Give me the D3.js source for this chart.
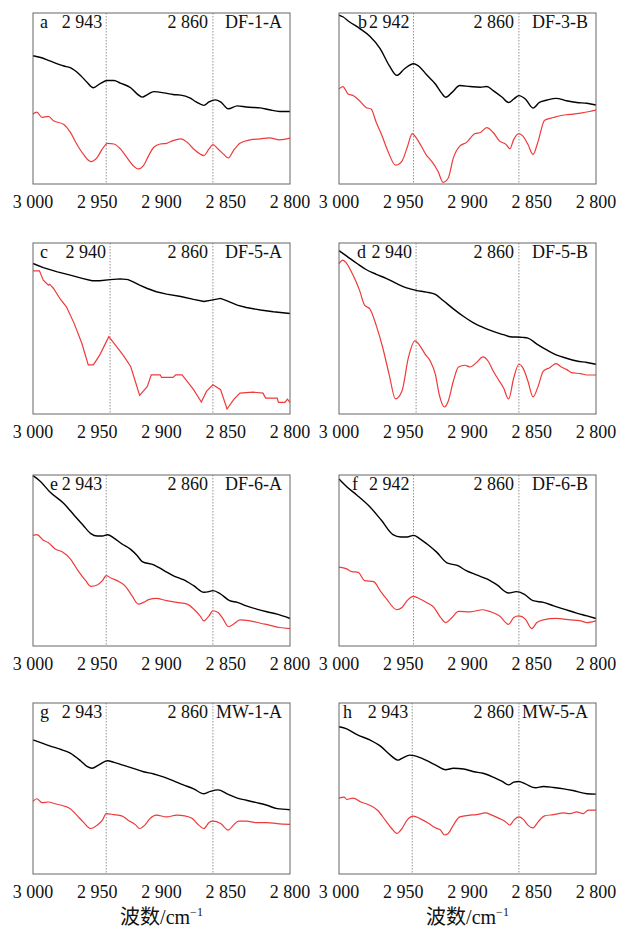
<!DOCTYPE html>
<html>
<head>
<meta charset="utf-8">
<script src="https://cdn.jsdelivr.net/npm/d3@7/dist/d3.min.js"></script>
<style>
  body { margin: 0; background: #fff; }
  text { font-family: "Liberation Serif", "Noto Sans CJK SC", serif; fill: #111; }
</style>
</head>
<body>
<svg id="chart" width="623" height="931"></svg>
<script>
// x axis ticks (wavenumber, cm-1)
const xTicks = [3000, 2950, 2900, 2850, 2800];

// panel labels
const panelLetters = ['a', 'b', 'c', 'd', 'e', 'f', 'g', 'h'];
const sampleNames = ['DF-1-A', 'DF-3-B', 'DF-5-A', 'DF-5-B', 'DF-6-A', 'DF-6-B', 'MW-1-A', 'MW-5-A'];
const peak1 = [2943, 2942, 2940, 2940, 2943, 2942, 2943, 2943];
const peak2 = [2860, 2860, 2860, 2860, 2860, 2860, 2860, 2860];

// spectra: [wavenumber, relative intensity 0-100]
const aBlack = [[3000,75],[2994,74],[2987,72],[2976,69],[2971,68],[2963,63.5],[2958,59.5],[2953,56.3],[2948,58.6],[2942,60.5],[2937,60.5],[2932,59],[2924,56.3],[2919,52.7],[2915,50.8],[2911,52.3],[2906,54],[2898,53.3],[2891,52.3],[2885,52],[2878,50.4],[2873,48],[2867,46],[2863,48],[2858,49.2],[2854,48],[2848,44],[2841,45.7],[2834,45],[2823,44.5],[2816,43.4],[2808,42.4],[2800,42.4]];
const aRed = [[3000,41],[2997,42],[2993,39],[2988,39.5],[2984,37],[2976,34.8],[2971,30.3],[2966,23.4],[2961,17.6],[2955,13.1],[2950,15.6],[2946,20.5],[2942,23.8],[2937,23.4],[2932,20.5],[2927,15.6],[2922,10.7],[2918,8.8],[2914,10.7],[2910,16.6],[2906,21.5],[2901,23.4],[2896,23.8],[2891,25.4],[2885,26.4],[2880,24.4],[2875,20.5],[2870,17.6],[2867,16.6],[2863,20.5],[2860,23],[2856,20.5],[2852,17.6],[2848,15.2],[2844,19.5],[2839,23.8],[2831,25.8],[2823,26.4],[2816,27],[2808,25.8],[2800,26.8]];

const bBlack = [[3000,98.8],[2997,97.8],[2992,94.9],[2984,91],[2976,86.4],[2968,79.2],[2961,69.4],[2955,63.5],[2949,67.4],[2942,70.3],[2937,68.3],[2932,64],[2925,58.5],[2920,53],[2917,50.7],[2912,53.6],[2906,57.6],[2898,57],[2890,56.6],[2885,57],[2880,54.6],[2873,50.7],[2868,47.7],[2864,49.7],[2860,51.7],[2855,49.7],[2849,44.4],[2844,47.7],[2838,49.1],[2831,50.1],[2823,48.7],[2815,47.7],[2807,47.2],[2800,46.2]];
const bRed = [[3000,55.6],[2997,57],[2993,52.7],[2989,51.7],[2984,48.7],[2979,44.8],[2975,43.8],[2971,36],[2967,29.1],[2962,19.3],[2956,11],[2951,13.4],[2947,21.2],[2943,29.5],[2940,27.1],[2936,22.2],[2932,16.9],[2928,13.4],[2923,7.5],[2919,1],[2915,3.5],[2911,15.3],[2906,22.2],[2901,24.2],[2894,29.5],[2890,30.1],[2885,33],[2880,30.1],[2875,25.1],[2870,23.2],[2867,20.6],[2864,26.1],[2860,29.5],[2857,28.1],[2853,23.2],[2849,17.3],[2845,25.1],[2840,37.3],[2833,38.9],[2828,39.9],[2823,40.5],[2818,40.9],[2812,41.5],[2805,42.4],[2800,43.2]];

const cBlack = [[3000,88],[2992,85.6],[2981,83.1],[2971,81.2],[2961,79.2],[2954,77.9],[2948,77.9],[2940,78.6],[2932,79],[2926,78.6],[2922,77.3],[2917,75.3],[2911,73.4],[2904,71.5],[2896,70.1],[2885,68.7],[2875,67],[2867,65.8],[2861,66.6],[2854,67.6],[2849,66.2],[2841,63.7],[2834,62.3],[2823,60.8],[2813,59.8],[2800,58.8]];
const cRed = [[3000,83.7],[2995,83.7],[2992,78.3],[2988,75.3],[2987,75.9],[2984,73.4],[2979,67.4],[2974,62.7],[2968,53],[2962,41.4],[2957,28.7],[2953,28.7],[2948,34.6],[2941,45.2],[2936,40.4],[2930,34.6],[2924,27.8],[2920,18.1],[2917,10.9],[2911,16.1],[2908,22.9],[2901,22.9],[2900,21.4],[2891,21.4],[2889,22.9],[2884,22.9],[2882,21],[2875,14.2],[2869,7],[2865,13.2],[2860,17.1],[2854,14.2],[2849,2.9],[2844,8.3],[2839,12.2],[2829,12.8],[2821,12.2],[2819,9.3],[2810,9.3],[2809,6.8],[2804,6.8],[2802,8.7],[2800,6.8]];

const dBlack = [[3000,95.5],[2994,92.3],[2986,88],[2979,84.5],[2971,81.7],[2963,79.2],[2955,76.2],[2948,73.9],[2940,72.3],[2932,71.3],[2925,69.9],[2919,66.4],[2911,61.5],[2903,57],[2896,53.6],[2888,50.7],[2880,48.3],[2872,46.4],[2867,45.2],[2857,44.8],[2853,44.4],[2846,40.9],[2838,37.3],[2831,34.6],[2823,32.6],[2815,31],[2807,30.1],[2800,29.1]];
const dRed = [[3000,88],[2997,90],[2994,88],[2989,81.1],[2984,72.3],[2980,63.5],[2976,61.5],[2971,51.7],[2966,38.9],[2961,23.2],[2956,8.8],[2951,13.4],[2946,33],[2941,42.8],[2937,39.9],[2933,35],[2929,31],[2925,23.2],[2922,11.4],[2918,4.1],[2915,7.5],[2911,19.3],[2907,27.5],[2902,28.5],[2898,27.5],[2893,30.1],[2888,33.4],[2884,31],[2880,25.1],[2876,20.2],[2872,15.3],[2868,8.8],[2864,21.2],[2860,29.1],[2857,27.1],[2853,19.3],[2849,10],[2845,16.3],[2841,25.1],[2836,27.1],[2831,29.5],[2827,27.5],[2823,26.1],[2819,24.2],[2812,23.6],[2807,22.8],[2800,22.8]];

const eBlack = [[3000,99.6],[2994,96.1],[2987,90.2],[2976,83.3],[2968,76.5],[2961,70.6],[2955,65.7],[2950,64.3],[2946,64.3],[2942,65.1],[2937,63.1],[2931,59.8],[2924,56.5],[2919,52.9],[2915,49.4],[2906,47.5],[2898,44.1],[2891,41.2],[2883,38.8],[2875,35.3],[2867,31.4],[2863,31.8],[2860,32.4],[2854,30.4],[2847,26.5],[2841,25.5],[2834,23.5],[2826,21.6],[2818,20],[2810,18.6],[2800,16.1]];
const eRed = [[3000,64.7],[2997,65.1],[2992,61.8],[2988,60.4],[2983,56.9],[2977,54.9],[2971,51],[2965,44.1],[2959,38.2],[2955,34.9],[2950,35.7],[2946,38.2],[2943,41.2],[2939,39.6],[2933,37.6],[2928,34.9],[2923,29.4],[2918,24.5],[2914,25.5],[2910,27.1],[2904,27.8],[2896,26.5],[2888,25.5],[2880,24.5],[2875,21.6],[2870,17.6],[2867,14.7],[2863,17.6],[2860,20.6],[2856,19.6],[2852,15.7],[2848,11.4],[2844,12.7],[2839,15.3],[2831,14.7],[2823,13.3],[2816,12.2],[2808,10.8],[2800,10.2]];

const fBlack = [[3000,97.6],[2994,93.1],[2986,88.2],[2976,81.4],[2967,73.5],[2958,65.1],[2952,63.7],[2947,63.7],[2942,64.7],[2937,62.7],[2930,58.8],[2924,54.9],[2916,48.6],[2908,47.1],[2901,44.1],[2893,41.6],[2885,39.2],[2877,35.7],[2868,31],[2862,31.8],[2856,30.4],[2849,26.5],[2841,25.5],[2833,23.5],[2825,21.6],[2815,19.2],[2807,17.6],[2800,16.1]];
const fRed = [[3000,46.1],[2994,45.1],[2990,43.5],[2985,43.1],[2980,38.2],[2973,37.6],[2968,32.4],[2963,27.5],[2955,21.2],[2951,22.5],[2947,26.5],[2942,29],[2937,27.5],[2932,25.5],[2926,22.5],[2921,16.7],[2917,13.7],[2912,16.7],[2907,20.2],[2898,20],[2888,21.2],[2882,20],[2875,17.6],[2868,12.7],[2864,16.7],[2860,17.6],[2855,15.7],[2850,10.2],[2846,13.7],[2841,15.3],[2831,16.1],[2820,15.3],[2812,14.7],[2807,13.7],[2800,14.7]];

const gBlack = [[3000,78.4],[2994,76.8],[2987,74.9],[2979,73],[2971,70.7],[2963,66.2],[2958,62.9],[2954,61.8],[2949,63.7],[2942,66.2],[2937,65.3],[2930,63.7],[2922,61.8],[2914,59.8],[2906,58.5],[2898,56.6],[2891,54.6],[2883,52.1],[2875,49.8],[2867,46.9],[2862,48.3],[2856,49.2],[2849,46.9],[2841,44.4],[2834,43.1],[2826,41.7],[2818,40.2],[2810,38.2],[2800,37.6]];
const gRed = [[3000,42.5],[2997,44],[2993,41.7],[2988,42.1],[2983,41.1],[2976,39.8],[2971,38.2],[2966,34.4],[2961,30.5],[2955,26.6],[2950,28.6],[2946,31.5],[2943,35.3],[2937,34.7],[2931,34],[2926,31.5],[2920,28.6],[2917,26.6],[2913,28.6],[2909,32.4],[2904,34.4],[2896,33.4],[2888,34.4],[2882,34],[2876,32.4],[2871,28.6],[2867,26.6],[2863,30.1],[2860,30.9],[2854,29.5],[2848,25.7],[2844,28.6],[2840,30.9],[2834,30.9],[2826,30.1],[2818,30.1],[2810,29.5],[2800,29]];

const hBlack = [[3000,86.1],[2994,84.9],[2986,81.5],[2976,78.4],[2968,74.9],[2960,69.5],[2954,66.6],[2950,68.1],[2945,69.5],[2937,68.1],[2929,65.3],[2923,62.9],[2917,61],[2911,61.8],[2903,61.4],[2895,59.8],[2888,58.9],[2880,56.6],[2873,54.1],[2868,52.1],[2864,53.7],[2860,54.1],[2855,52.7],[2847,50.4],[2841,51.2],[2833,50.6],[2825,49.8],[2818,48.8],[2807,46.9],[2800,46.7]];
const hRed = [[3000,44.4],[2996,45],[2994,43.6],[2989,44.4],[2983,42.1],[2977,40.5],[2970,37.3],[2964,31.5],[2959,26.6],[2955,23.7],[2951,26.6],[2947,31.5],[2942,33.8],[2937,32.4],[2930,29.5],[2925,27],[2921,25.7],[2918,22.8],[2915,23.7],[2911,28.6],[2906,33.4],[2898,34.4],[2893,34.7],[2886,35.7],[2881,34.4],[2875,32.4],[2871,30.9],[2867,28.6],[2864,31.5],[2860,33.4],[2856,31.5],[2853,28.6],[2849,27],[2845,30.5],[2840,34],[2833,34.7],[2825,35.7],[2820,35.3],[2815,36.3],[2810,35.3],[2806,37.3],[2800,37.3]];

const blackSeries = [aBlack, bBlack, cBlack, dBlack, eBlack, fBlack, gBlack, hBlack];
const redSeries = [aRed, bRed, cRed, dRed, eRed, fRed, gRed, hRed];

// layout
const colLeft = [33, 339];
const rowTop = [13, 243, 475, 703];
const plotW = 257, plotH = 171;
const letterDx = [7, 19, 7, 18, 17, 13, 7, 4];

const svg = d3.select('#chart');
const fmt = d => d3.format(',')(d).replace(',', ' ');

panelLetters.forEach((letter, i) => {
  const left = colLeft[i % 2];
  const top = rowTop[Math.floor(i / 2)];
  const g = svg.append('g').attr('transform', `translate(${left},${top})`);

  const x = d3.scaleLinear().domain([3000, 2800]).range([0, plotW]);
  const y = d3.scaleLinear().domain([0, 100]).range([plotH, 0]);

  // dotted reference lines
  [peak1[i], peak2[i]].forEach(p => {
    g.append('line')
      .attr('x1', x(p)).attr('x2', x(p))
      .attr('y1', 0).attr('y2', plotH)
      .attr('stroke', '#777')
      .attr('stroke-width', 0.8)
      .attr('stroke-dasharray', '1.5,1.5');
  });

  const line = d3.line()
    .x(d => x(d[0]))
    .y(d => y(d[1]))
    .curve(letter === 'c' ? d3.curveLinear : d3.curveMonotoneX);

  g.append('path')
    .datum(blackSeries[i])
    .attr('d', line)
    .attr('fill', 'none')
    .attr('stroke', '#000')
    .attr('stroke-width', 1.4);

  g.append('path')
    .datum(redSeries[i])
    .attr('d', line)
    .attr('fill', 'none')
    .attr('stroke', '#ee3a3a')
    .attr('stroke-width', 1.2);

  // frame
  g.append('rect')
    .attr('x', 0).attr('y', 0)
    .attr('width', plotW).attr('height', plotH)
    .attr('fill', 'none')
    .attr('stroke', '#666')
    .attr('stroke-width', 1);

  // labels inside
  g.append('text').attr('x', letterDx[i]).attr('y', 15)
    .style('font-size', '18px').text(letter);
  g.append('text').attr('x', x(peak1[i]) - 4).attr('y', 15)
    .attr('text-anchor', 'end').style('font-size', '18px').text(fmt(peak1[i]));
  g.append('text').attr('x', x(peak2[i]) - 5).attr('y', 15)
    .attr('text-anchor', 'end').style('font-size', '18px').text(fmt(peak2[i]));
  g.append('text').attr('x', plotW - 8).attr('y', 15)
    .attr('text-anchor', 'end').style('font-size', '18px').text(sampleNames[i]);

  // x tick labels
  g.selectAll('.tick-label')
    .data(xTicks)
    .enter().append('text')
    .attr('class', 'tick-label')
    .attr('x', d => x(d))
    .attr('y', plotH + 24)
    .attr('text-anchor', 'middle')
    .style('font-size', '18px')
    .text(fmt);

  // axis title on bottom row
  if (i >= 6) {
    const t = g.append('text')
      .attr('x', plotW / 2)
      .attr('y', plotH + 50)
      .attr('text-anchor', 'middle')
      .style('font-size', '20px');
    t.append('tspan').text('波数/cm');
    t.append('tspan').attr('dy', -8).style('font-size', '12px').text('−1');
  }
});
</script>
</body>
</html>
